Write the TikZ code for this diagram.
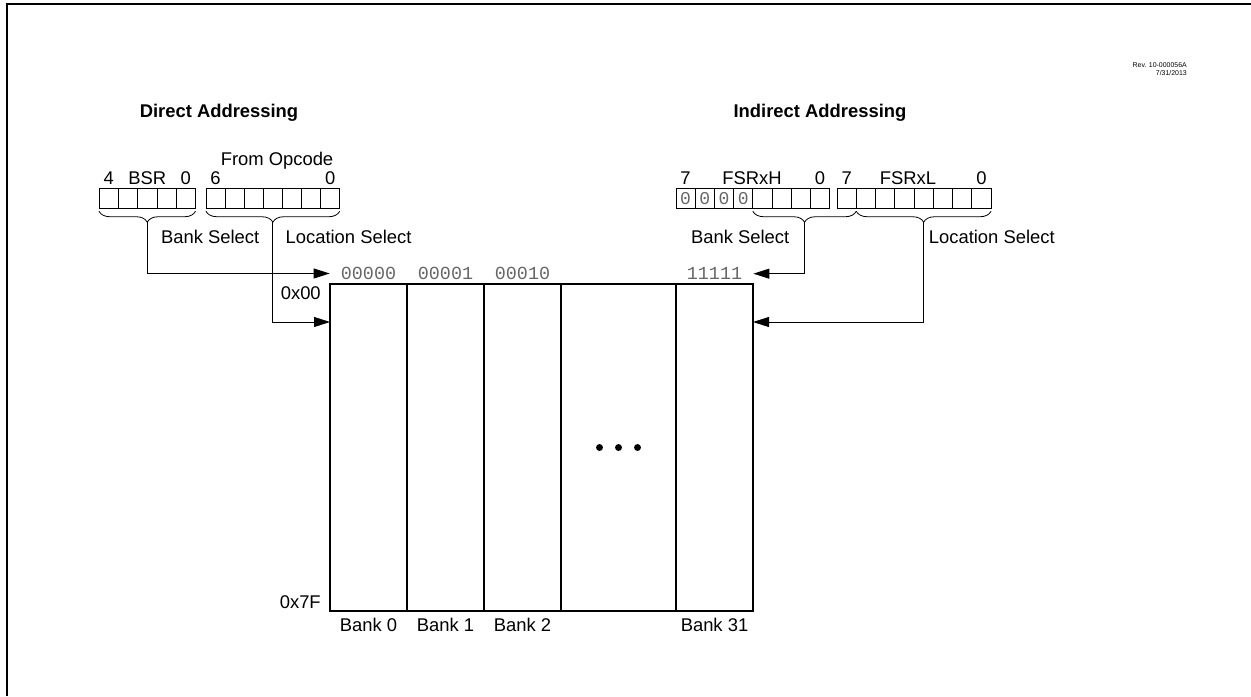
\documentclass[tikz,border=0pt]{standalone}
\usepackage{fontspec}
\setmainfont{Liberation Sans}
\setmonofont{Liberation Mono}
\usepackage{tikz}
\usetikzlibrary{arrows.meta, positioning, calc, decorations.pathreplacing}
\newcommand{\figfont}{\fontsize{13.8}{16.5}\selectfont}

\begin{document}
\begin{tikzpicture}[x=0.75pt, y=-0.75pt, node distance=3pt, font=\figfont]
        \tikzstyle{lbl} = [inner sep=0pt, font=\figfont]
        \tikzstyle{bit} = [draw, line width=0.6pt, minimum height=14.6pt, inner sep=0pt, outer sep=0pt, text=black!60, font=\fontsize{13.5}{13.5}\selectfont\ttfamily]
        \tikzstyle{bank} = [draw, line width=0.8pt, minimum height=245.25pt, inner sep=0pt, outer sep=0pt, anchor=north west]
        \tikzstyle{code} = [inner xsep=8.25pt, inner ysep=0pt, text=black!60, font=\figfont\ttfamily]
        \tikzstyle{line} = [draw, line width=0.6pt, -{Triangle[length=12pt, width=7.5pt]}]
        \tikzstyle{brace} = [draw, line width=0.6pt, decorate, decoration={brace, mirror, amplitude=8.25pt, raise=2.25pt}]

        \useasboundingbox (0,0) rectangle (1251,696);
        \draw[line width=1.5pt] (7,696) -- (7,4) -- (1251,4);

        \node [lbl, align=right, anchor=east, font=\fontsize{5.2}{6}\selectfont] (rev) at (1187,69) {Rev. 10-000056A\\7/31/2013};
        \node [lbl, font=\figfont\bfseries] (direct) at (219,113) {Direct Addressing};
        \node [lbl, font=\figfont\bfseries] (indirect) at (820,113) {Indirect Addressing};

        \foreach \b in {4,...,0}
            \node [bit, minimum width=14.475pt] (bsr\b) at ({99+19.3*(4.5-\b)},198.5) {};
        \foreach \b in {6,...,0}
            \node [bit, minimum width=14.325pt] (op\b) at ({206+19.1*(6.5-\b)},198.5) {};
        \foreach \b in {7,...,0}
            \node [bit, minimum width=14.4pt] (fh\b) at ({676+19.2*(7.5-\b)},198.5) {\ifnum\b>3 0\fi};
        \foreach \b in {7,...,0}
            \node [bit, minimum width=14.4375pt] (fl\b) at ({837+19.25*(7.5-\b)},198.5) {};

        \node [lbl, above=3pt of bsr4] (bsrhi) {4};
        \node [lbl, above=3pt of bsr2] (bsrname) {BSR};
        \node [lbl, above=3pt of bsr0] (bsrlo) {0};
        \node [lbl, above=3pt of op6] (ophi) {6};
        \node [lbl, above=3pt of op0] (oplo) {0};
        \node [lbl] (opname) at (277,161) {From Opcode};
        \node [lbl, above=3pt of fh7] (fhhi) {7};
        \node [lbl, above=3pt of fh0] (fhlo) {0};
        \node [lbl, above=3pt of fl7] (flhi) {7};
        \node [lbl, above=3pt of fl0] (fllo) {0};
        \node [lbl, anchor=south] (fhname) at (752,185) {FSRxH};
        \node [lbl, anchor=south] (flname) at (908,185) {FSRxL};

        \draw [brace] (bsr4.south west) -- (bsr0.south east);
        \draw [brace] (op6.south west) -- (op0.south east);
        \draw [brace] (fh3.south west) -- (fl7.south east);
        \draw [brace] (fl6.south west) -- (fl0.south east);

        \coordinate (bsrtip) at ($(bsr4.south west)!0.5!(bsr0.south east)+(0,14)$);
        \coordinate (optip) at ($(op6.south west)!0.5!(op0.south east)+(0,14)$);
        \coordinate (fhtip) at ($(fh3.south west)!0.5!(fl7.south east)+(0,14)$);
        \coordinate (fltip) at ($(fl6.south west)!0.5!(fl0.south east)+(0,14)$);

        \node [lbl, anchor=west] (banksel) at ($(bsrtip)+(13.5,15)$) {Bank Select};
        \node [lbl, anchor=west] (locsel) at ($(optip)+(12.5,15)$) {Location Select};
        \node [lbl, anchor=east] (fhsel) at ($(fhtip)+(-15,15)$) {Bank Select};
        \node [lbl, anchor=west] (flsel) at ($(fltip)+(5,15)$) {Location Select};

        \node [bank, minimum width=57.75pt] (bank0) at (330,284) {};
        \node [bank, minimum width=57.75pt] (bank1) at (bank0.north east) {};
        \node [bank, minimum width=57.75pt] (bank2) at (bank1.north east) {};
        \node [bank, minimum width=86.25pt] (bankdots) at (bank2.north east) {};
        \node [bank, minimum width=57.75pt] (bank31) at (bankdots.north east) {};
        \foreach \dx in {-19,0,19}
            \fill ($(bankdots.center)+(\dx,0)$) circle (2.6pt);

        \node [code, above=3pt of bank0] (code0) {00000};
        \node [code, above=3pt of bank1] (code1) {00001};
        \node [code, above=3pt of bank2] (code2) {00010};
        \node [code, above=3pt of bank31] (code31) {11111};

        \node [lbl, below=5pt of bank0] (name0) {Bank 0};
        \node [lbl, below=5pt of bank1] (name1) {Bank 1};
        \node [lbl, below=5pt of bank2] (name2) {Bank 2};
        \node [lbl, below=5pt of bank31] (name31) {Bank 31};

        \node [lbl, anchor=east] (addrtop) at ($(bank0.north west)+(-9,9)$) {0x00};
        \node [lbl, anchor=east] (addrbot) at ($(bank0.south west)+(-9,-9)$) {0x7F};

        \coordinate (inleft) at ($(bank0.north west)+(0,38)$);
        \coordinate (inright) at ($(bank31.north east)+(0,38)$);

        \path [line] (bsrtip) |- (code0.west);
        \path [line] (optip) |- (inleft);
        \path [line] (fhtip) |- (code31.east);
        \path [line] (fltip) |- (inright);
    \end{tikzpicture}
\end{document}
